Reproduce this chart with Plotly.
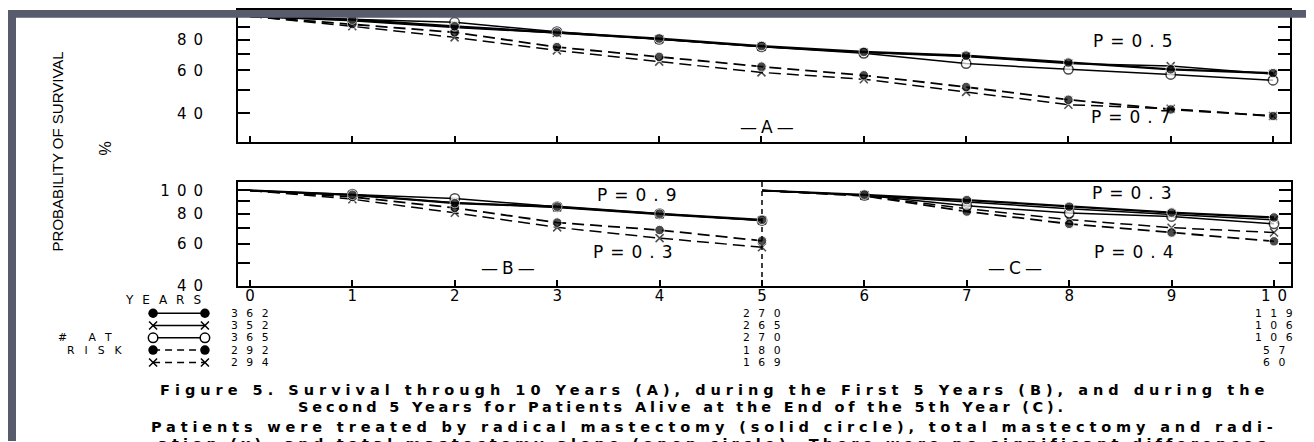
import plotly.graph_objects as go

W, H = 1314, 442

# ---------------- data ----------------
years_a = [0, 1, 2, 3, 4, 5, 6, 7, 8, 9, 10]
a_radical       = [100, 97.0, 91.0, 86.0, 81.0, 75.5, 71.5, 69.0, 64.6, 60.6, 58.5]
a_total_rad     = [100, 96.0, 90.0, 85.5, 80.5, 75.0, 71.0, 68.5, 64.0, 62.5, 58.0]
a_total         = [100, 97.0, 94.5, 86.5, 80.5, 75.0, 70.5, 64.0, 60.6, 57.8, 54.7]
a_radical_pos   = [100, 93.0, 86.0, 74.8, 68.2, 62.2, 57.3, 51.3, 45.5, 41.5, 39.0]
a_total_rad_pos = [100, 91.0, 82.0, 72.5, 65.2, 58.9, 55.2, 49.0, 43.4, 41.8, 39.0]

years_b = [0, 1, 2, 3, 4, 5]
b_radical       = [100, 96.0, 88.6, 85.6, 80.0, 75.4]
b_total_rad     = [100, 95.5, 89.0, 85.0, 79.5, 75.0]
b_total         = [100, 96.5, 92.6, 85.6, 80.0, 75.0]
b_radical_pos   = [100, 94.0, 84.6, 73.5, 68.4, 61.7]
b_total_rad_pos = [100, 92.0, 80.7, 70.2, 63.3, 58.0]

years_c = [5, 6, 7, 8, 9, 10]
c_radical       = [100, 96.0, 91.2, 85.6, 80.9, 77.2]
c_total_rad     = [100, 95.5, 89.5, 84.0, 79.5, 75.5]
c_total         = [100, 95.5, 86.4, 80.5, 78.0, 72.6]
c_radical_pos   = [100, 95.0, 81.7, 72.6, 66.8, 61.4]
c_total_rad_pos = [100, 95.0, 84.0, 75.6, 70.0, 66.8]

x_ticks = [0, 1, 2, 3, 4, 5, 6, 7, 8, 9, 10]
x_tick_text = ["0", "1", "2", "3", "4", "5", "6", "7", "8", "9", "10"]
y_ticks = [40, 50, 60, 70, 80, 90, 100]
y_tick_text = ["40", "", "60", "", "80", "", "100"]

risk_years = [0, 5, 10]
at_risk_0 = [362, 352, 365, 292, 294]
at_risk_5 = [270, 265, 270, 180, 169]
at_risk_10 = [119, 106, 106, 57, 60]

p_text = ["P=0.5", "P=0.7", "P=0.9", "P=0.3", "P=0.3", "P=0.4"]
panel_text = ["—A—", "—B—", "—C—"]
caption = [
    "Figure 5. Survival through 10 Years (A), during the First 5 Years (B), and during the",
    "Second 5 Years for Patients Alive at the End of the 5th Year (C).",
    "Patients were treated by radical mastectomy (solid circle), total mastectomy and radi-",
    "ation (x), and total mastectomy alone (open circle). There were no significant differences",
]

# ---------------- helpers ----------------
def fx(p):
    return p / W

def fy(p):
    return 1 - p / H

def ls(s, sp):
    # letter spacing on every glyph but the last (no trailing gap)
    if len(s) < 2:
        return s
    return f'<span style="letter-spacing:{sp}px">{s[:-1]}</span>{s[-1]}'

LETTER = "DejaVu Sans"
BLACK = "black"

styles = [
    dict(line=dict(color=BLACK, width=2.2),
         marker=dict(symbol="circle", size=9.5, color=BLACK)),
    dict(line=dict(color=BLACK, width=1.5),
         marker=dict(symbol="x-thin", size=8, color=BLACK, line=dict(width=1.5, color=BLACK))),
    dict(line=dict(color=BLACK, width=1.5),
         marker=dict(symbol="circle", size=9.5, color="white", line=dict(width=1.5, color=BLACK))),
    dict(line=dict(color=BLACK, width=1.8, dash="12px,6px"),
         marker=dict(symbol="circle", size=9.5, color=BLACK)),
    dict(line=dict(color=BLACK, width=1.5, dash="12px,6px"),
         marker=dict(symbol="x-thin", size=8, color=BLACK, line=dict(width=1.5, color=BLACK))),
]
draw_order = [4, 3, 1, 2, 0]

fig = go.Figure()

def add_group(xs, series, xa, ya):
    for i in draw_order:
        mk = dict(styles[i]["marker"])
        base = mk["size"]
        mk["size"] = [0] + [base] * (len(xs) - 1)   # curves start without a symbol
        fig.add_trace(go.Scatter(x=xs, y=series[i], mode="lines+markers", xaxis=xa, yaxis=ya,
                                 line=styles[i]["line"], marker=mk,
                                 showlegend=False, hoverinfo="skip", cliponaxis=False))

add_group(years_a, [a_radical, a_total_rad, a_total, a_radical_pos, a_total_rad_pos], "x", "y")
add_group(years_b, [b_radical, b_total_rad, b_total, b_radical_pos, b_total_rad_pos], "x2", "y2")
add_group(years_c, [c_radical, c_total_rad, c_total, c_radical_pos, c_total_rad_pos], "x2", "y2")

# legend glyphs of the "# at risk" table
legend_dash = ["solid", "solid", "solid", "7px,5px", "7px,5px"]
for i in range(5):
    ln = dict(styles[i]["line"])
    ln["dash"] = legend_dash[i]
    ln["width"] = 1.5
    fig.add_trace(go.Scatter(x=[0, 1], y=[i, i], mode="lines+markers", xaxis="x3", yaxis="y3",
                             line=ln, marker=styles[i]["marker"], showlegend=False,
                             hoverinfo="skip", cliponaxis=False))

x_range = [-0.117, 10.166]
tick_font = dict(family=LETTER, size=15, color=BLACK)

common_x = dict(range=x_range, showline=True, linecolor=BLACK, linewidth=2, mirror=True,
                ticks="inside", ticklen=6, tickwidth=1.5, tickcolor=BLACK,
                tickvals=x_ticks, showgrid=False, zeroline=False, fixedrange=True)
common_y = dict(type="log", showline=True, linecolor=BLACK, linewidth=2, mirror="ticks",
                ticks="inside", ticklen=12, tickwidth=1.5, tickcolor=BLACK,
                tickvals=y_ticks, ticktext=[ls(t, 7) if t else "" for t in y_tick_text],
                tickfont=tick_font, ticklabelstandoff=30,
                showgrid=False, zeroline=False, fixedrange=True)

fig.update_layout(
    width=W, height=H,
    margin=dict(l=0, r=0, t=0, b=0),
    paper_bgcolor="white", plot_bgcolor="white",
    xaxis=dict(common_x, domain=[fx(230), fx(1282)], anchor="y", showticklabels=False),
    yaxis=dict(common_y, domain=[fy(135), 1.0], anchor="x", range=[1.486, 2.026]),
    xaxis2=dict(common_x, domain=[fx(230), fx(1283)], anchor="y2", showticklabels=True,
                ticktext=[ls(t, 7) for t in x_tick_text], tickfont=tick_font,
                ticklabelstandoff=-5),
    yaxis2=dict(common_y, domain=[fy(283), fy(176)], anchor="x2", range=[1.60206, 2.037]),
    xaxis3=dict(domain=[fx(143), fx(199)], range=[-0.04, 1.04], visible=False, fixedrange=True,
                anchor="y3"),
    yaxis3=dict(domain=[fy(367.7), fy(304.7)], range=[4.5, -0.5], visible=False,
                fixedrange=True, anchor="x3"),
)

# dashed divider between B and C
fig.add_shape(type="line", xref="x2", yref="y2 domain", x0=5, x1=5, y0=0, y1=1,
              line=dict(color=BLACK, width=1.5, dash="5px,4px"))

ann = []
def text(x, y, s, size=14, family=LETTER, xanchor="center", angle=0, sp=0, bold=False):
    t = ls(s, sp) if sp else s
    if bold:
        t = f"<b>{t}</b>"
    ann.append(dict(x=fx(x), y=fy(y), xref="paper", yref="paper", text=t, showarrow=False,
                    xanchor=xanchor, yanchor="middle", textangle=angle,
                    font=dict(family=family, size=size, color=BLACK)))

# P values and panel letters
text(1125, 32, p_text[0], size=17, sp=7)
text(1123, 110, p_text[1], size=17, sp=7)
text(629, 190, p_text[2], size=17, sp=7)
text(625, 248, p_text[3], size=17, sp=7)
text(1124, 188, p_text[4], size=17, sp=7)
text(1126, 248, p_text[5], size=17, sp=7)
text(759, 120, panel_text[0], size=17, sp=4)
text(500, 265, panel_text[1], size=17, sp=4)
text(1007, 265, panel_text[2], size=17, sp=4)

# axis titles
text(49, 145, "PROBABILITY OF SURVIVAL", size=15, family="Liberation Sans", angle=-90)
text(97, 142, "%", size=16, family="Liberation Sans", angle=-90)

# at-risk table
row_y = [311, 323.6, 336.2, 348.8, 361.4]
text(155, 297, "YEARS", size=12, sp=9)
text(77, row_y[2], "# AT", size=10.8, sp=9)
text(87, row_y[3], "RISK", size=10.8, sp=10)
for col, vals in zip(risk_years, [at_risk_0, at_risk_5, at_risk_10]):
    for r, v in enumerate(vals):
        ann.append(dict(x=col, xref="x2", y=fy(row_y[r]), yref="paper", text=ls(str(v), 8.5),
                        showarrow=False, xanchor="center", yanchor="middle",
                        font=dict(family=LETTER, size=10.8, color=BLACK)))

# caption (uniform letter spacing; the short second line starts indented)
cap_y = [390, 407, 428, 445]
cap_x = [704, 288, 704, 704]
cap_anchor = ["center", "left", "center", "center"]
cap_sp = [5.0, 3.8, 4.85, 4.2]
for s, xx, yy, sp, anc in zip(caption, cap_x, cap_y, cap_sp, cap_anchor):
    t = f'<b><span style="letter-spacing:{sp}px">{s[:-1]}</span>{s[-1]}</b>'
    ann.append(dict(x=fx(xx), y=fy(yy), xref="paper", yref="paper", text=t, showarrow=False,
                    xanchor=anc, yanchor="middle",
                    font=dict(family="DejaVu Sans", size=14.5, color=BLACK)))

fig.update_layout(annotations=ann)

# slide background bands (grey frame of the scanned slide)
SLIDE = "#575b6b"
fig.add_shape(type="rect", xref="paper", yref="paper", x0=0, x1=1, y0=fy(8), y1=1,
              fillcolor=SLIDE, line_width=0, layer="above")
fig.add_shape(type="rect", xref="paper", yref="paper", x0=0, x1=fx(8), y0=0, y1=1,
              fillcolor=SLIDE, line_width=0, layer="above")

fig.write_html("out.html")
